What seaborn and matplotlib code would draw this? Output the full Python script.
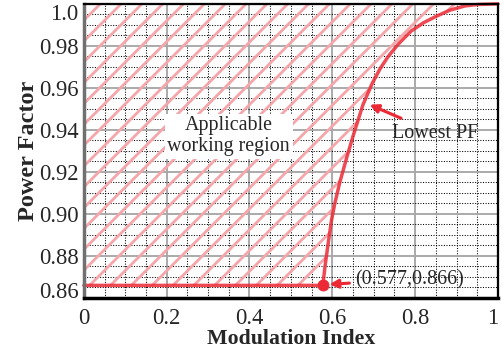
import numpy as np
import pandas as pd
import matplotlib
matplotlib.use('Agg')
import matplotlib.pyplot as plt
from matplotlib.ticker import MultipleLocator
import seaborn as sns

# data
mod_index = [0.0, 0.577, 0.583, 0.590, 0.598, 0.606, 0.618, 0.635, 0.650, 0.674,
             0.696, 0.715, 0.735, 0.760, 0.790, 0.820, 0.850, 0.884, 0.920, 0.950, 1.0]
power_factor = [0.866, 0.866, 0.876, 0.886, 0.897, 0.905, 0.915, 0.927, 0.937, 0.952,
                0.962, 0.969, 0.975, 0.981, 0.987, 0.991, 0.994, 0.9970, 0.9990, 0.9997, 1.0]
point_x = [0.577]
point_y = [0.866]
x_ticks = [0, 0.2, 0.4, 0.6, 0.8, 1.0]
x_ticklabels = ['0', '0.2', '0.4', '0.6', '0.8', '1']
y_ticks = [0.86, 0.88, 0.90, 0.92, 0.94, 0.96, 0.98, 1.0]
y_ticklabels = ['0.86', '0.88', '0.90', '0.92', '0.94', '0.96', '0.98', '1.0']

df = pd.DataFrame({'M': mod_index, 'PF': power_factor})

sns.set_style('white')
plt.rcParams['font.family'] = ['Liberation Serif', 'DejaVu Serif']
plt.rcParams['hatch.color'] = '#f5a6aa'
plt.rcParams['hatch.linewidth'] = 1.6

red = '#ec2a36'
dpi = 125
fig = plt.figure(figsize=(502 / dpi, 351 / dpi), dpi=dpi)
ax = fig.add_axes([0.167, 0.151, 0.825, 0.838])

# grid
ax.xaxis.set_major_locator(MultipleLocator(0.2))
ax.xaxis.set_minor_locator(MultipleLocator(0.05))
ax.yaxis.set_major_locator(MultipleLocator(0.02))
ax.yaxis.set_minor_locator(MultipleLocator(0.005))
ax.grid(which='minor', color='black', linestyle=(0, (1, 1.5)), linewidth=0.6)
ax.grid(which='major', color='#a8a8a8', linestyle='-', linewidth=1.1)
ax.set_axisbelow(True)

# applicable working region (hatched)
ax.fill_between(df['M'], df['PF'], 1.0, facecolor='none', hatch='//',
                edgecolor='#f5a6aa', linewidth=0, zorder=2)

# lowest PF curve
sns.lineplot(data=df, x='M', y='PF', color=red, linewidth=2.0, alpha=0.85,
             ax=ax, zorder=4, clip_on=False)
sns.scatterplot(x=point_x, y=point_y, color=red, s=40, edgecolor=red,
                ax=ax, zorder=5)

ax.set_xlim(0, 1)
ax.set_ylim(0.86, 1.0)
ax.set_xticks(x_ticks)
ax.set_xticklabels(x_ticklabels)
ax.set_yticks(y_ticks)
ax.set_yticklabels(y_ticklabels)
ax.tick_params(which='both', length=0, labelsize=13)
ax.tick_params(axis='x', pad=6)
ax.tick_params(axis='y', pad=3)
ylabels = ax.get_yticklabels()
ylabels[-1].set_verticalalignment('top')
ylabels[0].set_verticalalignment('baseline')
ax.get_xticklabels()[-1].set_horizontalalignment('right')

ax.set_xlabel('Modulation Index', fontsize=12.5, fontweight='bold', labelpad=0)
ax.set_ylabel('Power Factor', fontsize=14, fontweight='bold', labelpad=0)

for side in ['top', 'right', 'bottom']:
    ax.spines[side].set_color('black')
    ax.spines[side].set_linewidth(1.3)
ax.spines['bottom'].set_linewidth(2.0)
ax.spines['left'].set_color('#707070')
ax.spines['left'].set_linewidth(2.0)
for s in ax.spines.values():
    s.set_zorder(6)

# annotations
ax.text(0.35, 0.937, 'Applicable\nworking region', ha='center', va='center',
        fontsize=11.5, linespacing=1.15, zorder=3,
        bbox=dict(facecolor='white', edgecolor='none', pad=1.5))
ax.annotate('Lowest PF', xy=(0.69, 0.952), xytext=(0.745, 0.9385),
            ha='left', va='center', fontsize=11.5, zorder=7,
            arrowprops=dict(arrowstyle='-|>', color=red, lw=1.8,
                            mutation_scale=10, shrinkA=2, shrinkB=0))
ax.annotate('(0.577,0.866)', xy=(0.593, 0.8665), xytext=(0.655, 0.8688),
            ha='left', va='center', fontsize=11.5, zorder=7,
            arrowprops=dict(arrowstyle='-|>', color=red, lw=1.8,
                            mutation_scale=10, shrinkA=1, shrinkB=0))

fig.savefig('out.png', dpi=dpi)
